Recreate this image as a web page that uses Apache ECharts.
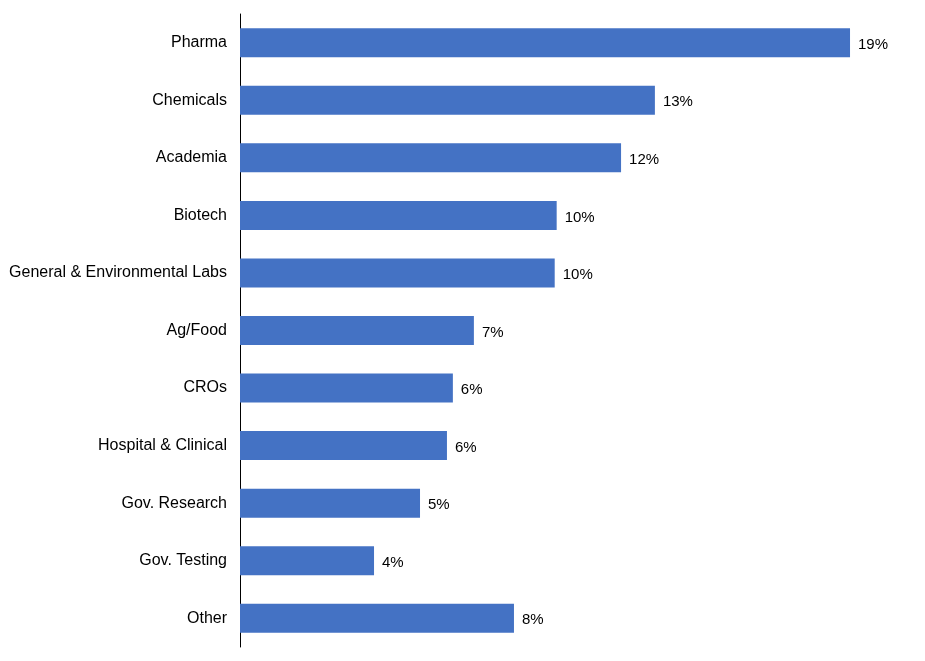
<!DOCTYPE html>
<html>
<head>
<meta charset="utf-8">
<script src="https://cdn.jsdelivr.net/npm/echarts@6/dist/echarts.min.js"></script>
<style>html,body{margin:0;padding:0;background:#fff;}#c{width:925px;height:661px;}</style>
</head>
<body>
<div id="c"></div>
<script>
const categories = ["Pharma","Chemicals","Academia","Biotech","General & Environmental Labs","Ag/Food","CROs","Hospital & Clinical","Gov. Research","Gov. Testing","Other"];
const shares = [18.57, 12.63, 11.60, 9.64, 9.58, 7.12, 6.48, 6.30, 5.48, 4.08, 8.34];

const chart = echarts.init(document.getElementById('c'));
chart.setOption({
  animation: false,
  grid: { left: 240, top: 14, width: 657, bottom: 14, containLabel: false },
  xAxis: { type: 'value', min: 0, max: 20, show: false },
  yAxis: {
    type: 'category', data: categories, inverse: true,
    axisLine: { show: true, lineStyle: { color: '#000', width: 1 } },
    axisTick: { show: false },
    axisLabel: { color: '#000', fontSize: 16, fontFamily: 'Liberation Sans, Arial, sans-serif', margin: 13, padding: [2, 0, 0, 0] }
  },
  series: [{
    type: 'bar', data: shares, barWidth: 29,
    itemStyle: { color: '#4472C4' },
    label: {
      show: true, position: 'right', distance: 8, color: '#000', fontSize: 15,
      fontFamily: 'Liberation Sans, Arial, sans-serif', offset: [0, 2],
      formatter: p => Math.round(p.value) + '%'
    }
  }]
});
</script>
</body>
</html>
